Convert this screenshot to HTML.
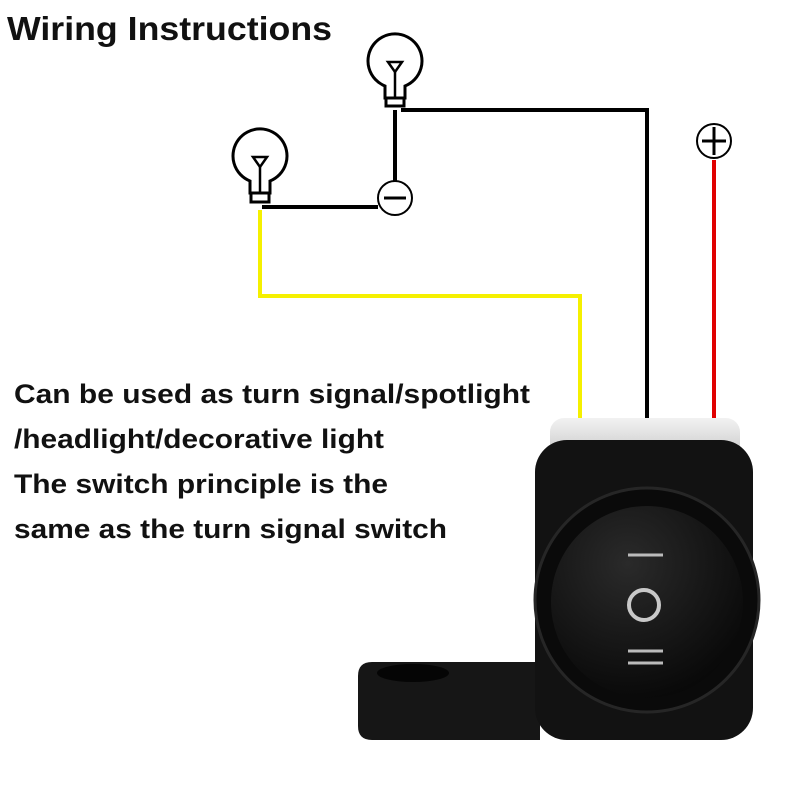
<!DOCTYPE html>
<html><head><meta charset="utf-8"><style>
body{margin:0;background:#fff;width:800px;height:800px;overflow:hidden}
svg{position:absolute;left:0;top:0}
.t{font-family:"Liberation Sans",sans-serif;font-weight:bold;fill:#111}
</style></head><body>
<svg width="800" height="800" viewBox="0 0 800 800">
<defs>
<radialGradient id="rk" cx="0.4" cy="0.3" r="0.8"><stop offset="0" stop-color="#2a2a2a"/><stop offset="1" stop-color="#050505"/></radialGradient>
<linearGradient id="cap" x1="0" y1="0" x2="0" y2="1"><stop offset="0" stop-color="#f2f2f2"/><stop offset="1" stop-color="#c8c8c8"/></linearGradient>
</defs>
<text class="t" x="7" y="40" font-size="33" textLength="325" lengthAdjust="spacingAndGlyphs">Wiring Instructions</text>
<text class="t" x="14" y="403" font-size="27" textLength="516" lengthAdjust="spacingAndGlyphs">Can be used as turn signal/spotlight</text>
<text class="t" x="14" y="448" font-size="27" textLength="370" lengthAdjust="spacingAndGlyphs">/headlight/decorative light</text>
<text class="t" x="14" y="493" font-size="27" textLength="374" lengthAdjust="spacingAndGlyphs">The switch principle is the</text>
<text class="t" x="14" y="538" font-size="27" textLength="433" lengthAdjust="spacingAndGlyphs">same as the turn signal switch</text>
<!-- wires -->
<polyline points="401,110 647,110 647,418" fill="none" stroke="#000" stroke-width="4"/>
<line x1="395" y1="110" x2="395" y2="182" stroke="#000" stroke-width="4"/>
<line x1="262" y1="207" x2="378" y2="207" stroke="#000" stroke-width="4"/>
<polyline points="260,210 260,296 580,296 580,420" fill="none" stroke="#f5f000" stroke-width="4"/>
<line x1="714" y1="160" x2="714" y2="420" stroke="#e00000" stroke-width="4"/>
<!-- bulbs -->
<g fill="#fff" stroke="#000" stroke-width="3">
<path d="M385,86 A27,27 0 1 1 405,86 L405,98 L385,98 Z"/>
<rect x="386" y="98" width="18" height="8"/>
<path d="M388,62 L402,62 L395,72 Z" stroke-width="2.5"/>
<line x1="395" y1="72" x2="395" y2="98" stroke-width="2.5"/>
<path d="M250,181 A27,27 0 1 1 270,181 L270,193 L250,193 Z"/>
<rect x="251" y="193" width="18" height="9"/>
<path d="M253,157 L267,157 L260,167 Z" stroke-width="2.5"/>
<line x1="260" y1="167" x2="260" y2="193" stroke-width="2.5"/>
<circle cx="395" cy="198" r="17" stroke-width="2"/>
<circle cx="714" cy="141" r="17" stroke-width="2"/>
</g>
<line x1="384" y1="198" x2="406" y2="198" stroke="#000" stroke-width="3"/>
<line x1="702" y1="141" x2="726" y2="141" stroke="#000" stroke-width="3"/>
<line x1="714" y1="127" x2="714" y2="155" stroke="#000" stroke-width="3"/>
<!-- switch -->
<rect x="550" y="418" width="190" height="40" rx="14" fill="url(#cap)"/>
<path d="M380,662 L540,662 L540,740 L372,740 Q358,740 358,726 L358,676 Q358,662 372,662 Z" fill="#161616"/>
<ellipse cx="413" cy="673" rx="36" ry="9" fill="#050505"/>
<rect x="535" y="440" width="218" height="300" rx="32" fill="#121212"/>
<circle cx="647" cy="600" r="112" fill="#0a0a0a" stroke="#262626" stroke-width="3"/>
<circle cx="647" cy="602" r="96" fill="url(#rk)"/>
<line x1="628" y1="555" x2="663" y2="555" stroke="#bbb" stroke-width="3"/>
<circle cx="644" cy="605" r="15" fill="none" stroke="#c8c8c8" stroke-width="4"/>
<line x1="628" y1="651" x2="663" y2="651" stroke="#bbb" stroke-width="3"/>
<line x1="628" y1="663" x2="663" y2="663" stroke="#bbb" stroke-width="3"/>
</svg>
</body></html>
